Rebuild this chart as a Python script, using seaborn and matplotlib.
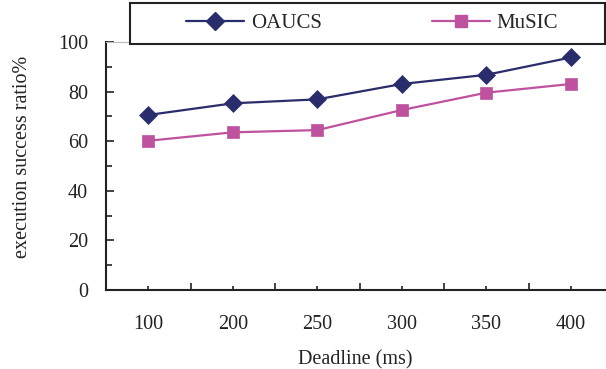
import numpy as np
import pandas as pd
import matplotlib
matplotlib.use("Agg")
import matplotlib.pyplot as plt
import seaborn as sns
from matplotlib.ticker import MultipleLocator, FixedLocator
from matplotlib.patches import Rectangle

# data
deadlines = ["100", "200", "250", "300", "350", "400"]
oaucs = [70.6, 75.3, 76.9, 83.1, 86.8, 93.8]
music = [60.2, 63.6, 64.5, 72.6, 79.6, 83.1]
series_names = ["OAUCS", "MuSIC"]
colors = ["#2A2D6B", "#BE529E"]

df = pd.DataFrame({
    "Deadline": deadlines * 2,
    "ratio": oaucs + music,
    "method": [series_names[0]] * len(deadlines) + [series_names[1]] * len(deadlines),
})

sns.set_style("ticks")
plt.rcParams["font.family"] = ["Liberation Serif", "DejaVu Serif"]

fig = plt.figure(figsize=(6.06, 3.69), dpi=100)
ax = fig.add_axes([0.175, 0.214, 0.823, 0.672])

sns.lineplot(data=df, x="Deadline", y="ratio", hue="method", style="method",
             markers={"OAUCS": "D", "MuSIC": "s"}, dashes=False,
             palette=dict(zip(series_names, colors)), linewidth=1.6,
             markersize=9, markeredgewidth=0.5, ax=ax, legend=False)
for line, c in zip(ax.lines, colors):
    line.set_markeredgecolor(c)

ax.set_xlim(-0.5, 5.4)
ax.set_ylim(0, 100)
ax.yaxis.set_major_locator(MultipleLocator(20))
ax.yaxis.set_minor_locator(MultipleLocator(10))
ax.xaxis.set_minor_locator(FixedLocator(np.arange(0.5, 5.5, 1.0)))
ax.tick_params(axis="both", which="both", direction="in", width=1.2, colors="#222222",
               labelcolor="#222222", labelsize=14.5)
ax.tick_params(axis="y", which="major", length=6, pad=13)
ax.tick_params(axis="y", which="minor", length=4)
ax.tick_params(axis="x", which="major", length=3, pad=18)
ax.tick_params(axis="x", which="minor", length=5)

for s in ["left", "bottom"]:
    ax.spines[s].set_linewidth(1.5)
    ax.spines[s].set_color("#222222")
ax.spines["top"].set_color("#bbbbbb")
ax.spines["right"].set_visible(False)

ax.set_xlabel("Deadline (ms)", fontsize=14.5, color="#222222", labelpad=12)
ax.set_ylabel("execution success ratio%", fontsize=14.5, color="#222222",
              va="center")
ax.yaxis.set_label_coords(-0.168, 0.536)

# legend frame drawn as a box, legend entries centred inside
fig.patches.append(Rectangle((0.2145, 0.881), 0.784, 0.111, transform=fig.transFigure,
                             facecolor="white", edgecolor="#222222", linewidth=1.5,
                             zorder=5))
handles = [plt.Line2D([], [], color=c, marker=m, markersize=9, markeredgecolor=c, linewidth=1.6)
           for c, m in zip(colors, ["D", "s"])]
leg = fig.legend(handles, series_names, loc="center",
                 bbox_to_anchor=(0.614, 0.937), ncol=2, frameon=False, fontsize=15,
                 handlelength=2.8, handletextpad=0.3, columnspacing=5.3)
leg.set_zorder(6)

fig.savefig("out.png", dpi=100)
